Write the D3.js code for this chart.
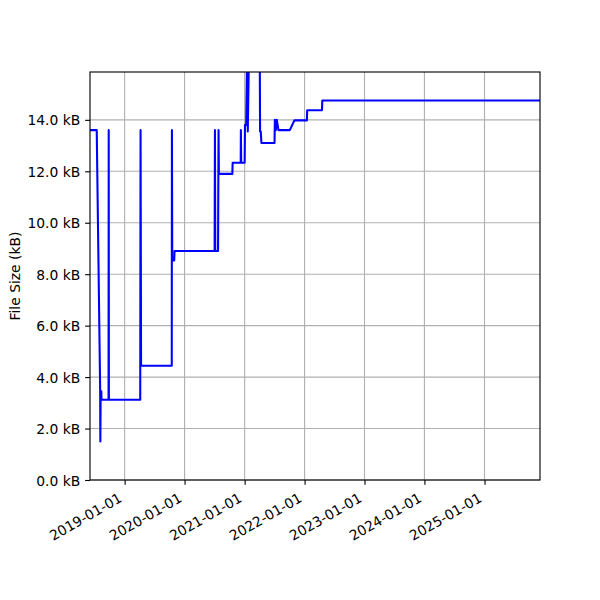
<!DOCTYPE html>
<html>
<head>
<meta charset="utf-8">
<script src="https://cdn.jsdelivr.net/npm/d3@7"></script>
<style>
  body { margin: 0; background: #fff; }
  text { font-family: "DejaVu Sans", sans-serif; }
</style>
</head>
<body>
<div id="vis"></div>
<script>
// commit dates and file size (kB)
var dates = [
  "2018-06-01", "2018-07-15", "2018-08-05", "2018-08-06", "2018-08-08", "2018-08-12", "2018-08-13",
  "2018-09-25", "2018-09-26", "2018-09-27",
  "2019-04-06", "2019-04-08", "2019-04-11",
  "2019-10-15", "2019-10-16", "2019-10-18", "2019-10-30", "2019-11-01",
  "2020-07-02", "2020-07-04", "2020-07-06", "2020-07-23", "2020-07-26", "2020-07-28",
  "2020-10-18", "2020-10-20", "2020-12-08", "2020-12-09", "2020-12-11",
  "2021-01-01", "2021-01-03", "2021-01-10", "2021-01-16", "2021-01-20", "2021-01-27",
  "2021-04-03", "2021-04-05", "2021-04-09", "2021-04-13",
  "2021-07-02", "2021-07-04", "2021-07-10", "2021-07-16", "2021-07-26",
  "2021-10-03", "2021-10-31",
  "2022-01-15", "2022-01-17", "2022-04-17", "2022-04-19",
  "2025-12-31"
];
var sizes = [
  13.6, 13.6, 3.45, 1.5, 3.45, 3.45, 3.12,
  3.12, 13.6, 3.12,
  3.12, 13.6, 4.44,
  4.44, 13.6, 8.53, 8.53, 8.9,
  8.9, 13.6, 8.9, 8.9, 13.6, 11.9,
  11.9, 12.33, 12.33, 13.6, 12.33,
  12.33, 13.8, 13.8, 16.5, 13.55, 16.5,
  16.5, 13.55, 13.55, 13.1,
  13.1, 14.0, 13.6, 14.0, 13.6,
  13.6, 13.98,
  13.98, 14.37, 14.37, 14.75,
  14.75
];
var yTicks = [0, 2, 4, 6, 8, 10, 12, 14];
var xTickLabels = ["2019-01-01", "2020-01-01", "2021-01-01", "2022-01-01", "2023-01-01", "2024-01-01", "2025-01-01"];
var xStart = "2018-06-04", xEnd = "2025-12-05";
var yMax = 15.86;

var parse = d3.utcParse("%Y-%m-%d");
var data = dates.map(function(d, i) { return {date: parse(d), size: sizes[i]}; });

var W = 600, H = 600;
var margin = {top: 72, right: 60, bottom: 120, left: 90};
var fontSize = 13.89;
var tickLen = 4.86, pad = 4.86;

var x = d3.scaleUtc()
    .domain([parse(xStart), parse(xEnd)])
    .range([margin.left, W - margin.right]);
var y = d3.scaleLinear()
    .domain([0, yMax])
    .range([H - margin.bottom, margin.top]);

var svg = d3.select("#vis").append("svg")
    .attr("width", W)
    .attr("height", H);

var x0 = margin.left, x1 = W - margin.right, y0 = H - margin.bottom, y1 = margin.top;

/* grid */
svg.append("g").selectAll("line")
    .data(yTicks)
    .enter().append("line")
    .attr("x1", x0).attr("x2", x1)
    .attr("y1", function(d) { return y(d); })
    .attr("y2", function(d) { return y(d); })
    .attr("stroke", "#b0b0b0").attr("stroke-width", 1.11);

svg.append("g").selectAll("line")
    .data(xTickLabels)
    .enter().append("line")
    .attr("x1", function(d) { return x(parse(d)); })
    .attr("x2", function(d) { return x(parse(d)); })
    .attr("y1", y0).attr("y2", y1)
    .attr("stroke", "#b0b0b0").attr("stroke-width", 1.11);

/* the line, clipped to the axes */
svg.append("clipPath").attr("id", "clip")
    .append("rect")
    .attr("x", x0).attr("y", y1)
    .attr("width", x1 - x0).attr("height", y0 - y1);

var line = d3.line()
    .x(function(d) { return x(d.date); })
    .y(function(d) { return y(d.size); });

svg.append("path")
    .datum(data)
    .attr("clip-path", "url(#clip)")
    .attr("fill", "none")
    .attr("stroke", "#0000ff")
    .attr("stroke-width", 2.08)
    .attr("stroke-linejoin", "round")
    .attr("d", line);

/* y axis */
var yAxis = d3.axisLeft(y)
    .tickValues(yTicks)
    .tickSize(tickLen)
    .tickPadding(pad)
    .tickFormat(function(d) { return d3.format(".1f")(d) + " kB"; });

var gy = svg.append("g")
    .attr("transform", "translate(" + x0 + ",0)")
    .call(yAxis);
gy.select(".domain").remove();
gy.selectAll("line").attr("stroke", "#000").attr("stroke-width", 1.11);
gy.selectAll("text")
    .attr("font-size", fontSize)
    .attr("font-family", "DejaVu Sans")
    .attr("fill", "#000")
    .attr("dy", "0.36em");

/* x axis */
var xAxis = d3.axisBottom(x)
    .tickValues(xTickLabels.map(parse))
    .tickSize(tickLen)
    .tickFormat("");

var gx = svg.append("g")
    .attr("transform", "translate(0," + y0 + ")")
    .call(xAxis);
gx.select(".domain").remove();
gx.selectAll("line").attr("stroke", "#000").attr("stroke-width", 1.11);

// rotated date labels, right edge at the tick (like autofmt_xdate)
svg.append("g").selectAll("text")
    .data(xTickLabels)
    .enter().append("text")
    .attr("text-anchor", "end")
    .attr("font-size", fontSize)
    .attr("transform", function(d) {
        return "translate(" + (x(parse(d)) - 1.65) + "," + (y0 + 20.8) + ") rotate(-30)";
    })
    .text(function(d) { return d; });

/* spines */
svg.append("rect")
    .attr("x", x0).attr("y", y1)
    .attr("width", x1 - x0).attr("height", y0 - y1)
    .attr("fill", "none")
    .attr("stroke", "#000")
    .attr("stroke-width", 1.11);

/* y label */
svg.append("text")
    .attr("text-anchor", "middle")
    .attr("font-size", fontSize)
    .attr("transform", "translate(20.4," + ((y0 + y1) / 2) + ") rotate(-90)")
    .text("File Size (kB)");
</script>
</body>
</html>
